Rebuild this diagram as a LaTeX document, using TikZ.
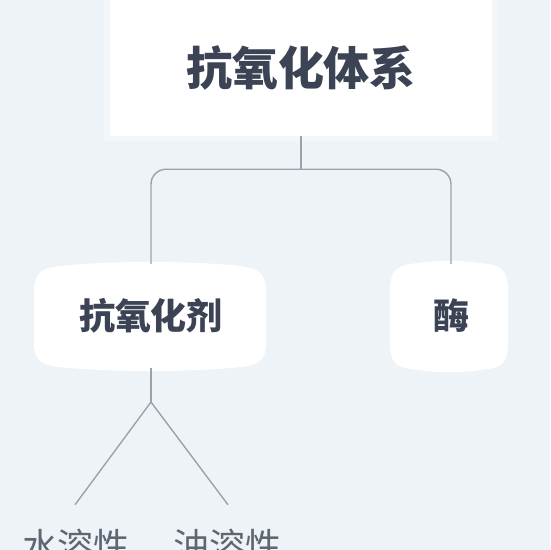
\documentclass[tikz,border=0pt]{standalone}
\usepackage{fontspec}
\setmainfont{Noto Sans CJK SC}
\usetikzlibrary{calc}
\definecolor{bg}{HTML}{EEF3F8}
\definecolor{ink}{HTML}{3B4354}
\definecolor{soft}{HTML}{5F6672}
\definecolor{wire}{HTML}{9AA2AC}
\tikzset{
  conn/.style={draw=wire, line width=1.4pt},
  titlebox/.style={fill=white, minimum width=382pt, minimum height=136pt, inner sep=0pt,
    font=\fontsize{46}{50}\selectfont\bfseries, text=ink},
  blobtext/.style={inner sep=0pt, font=\fontsize{36}{40}\selectfont\bfseries, text=ink},
  leaftext/.style={inner sep=0pt, minimum height=82pt, font=\fontsize{36}{40}\selectfont, text=soft}
}
\begin{document}
\begin{tikzpicture}[x=1pt,y=-1pt]
\useasboundingbox (0,0) rectangle (550,550);
\fill[bg] (0,0) rectangle (550,550);
% soft shadow of title box
\fill[white!30!bg] (104,-5) rectangle (498,141);
\node[titlebox] (sys) at (301,68) {抗氧化体系};
% blobs
\fill[white] (34,292) .. controls (34,270) and (44,267) .. (70,265) .. controls (115,261) and (185,261) .. (230,265) .. controls (256,267) and (266,270) .. (266,292)
  -- (266,342) .. controls (266,364) and (256,366) .. (230,368) .. controls (185,372) and (115,372) .. (70,368) .. controls (44,366) and (34,364) .. (34,342) -- cycle;
\fill[white] (390,292) .. controls (390,268) and (398,265) .. (418,263) .. controls (438,260) and (460,260) .. (480,263) .. controls (500,265) and (508,268) .. (508,292)
  -- (508,342) .. controls (508,366) and (500,368) .. (480,370) .. controls (460,373) and (438,373) .. (418,370) .. controls (398,368) and (390,366) .. (390,342) -- cycle;
\node[blobtext, minimum width=232pt, minimum height=104pt] (ao) at (151,316) {抗氧化剂};
\node[blobtext, minimum width=118pt, minimum height=104pt] (enz) at (451,316) {酶};
\node[leaftext] (ws) at (76,546) {水溶性};
\node[leaftext] (os) at (227,546) {油溶性};
% connectors
\draw[conn] (sys.south) -- ++(0,33) coordinate (j);
\draw[conn, rounded corners=15pt] (ao.north) |- (j) -| (enz.north);
\coordinate (split) at (151,402);
\draw[conn] (ao.south) -- (split);
\draw[conn] (split) -- ($(ws.north)+(-1,0)$);
\draw[conn] (split) -- ($(os.north)+(1,0)$);
\end{tikzpicture}
\end{document}
